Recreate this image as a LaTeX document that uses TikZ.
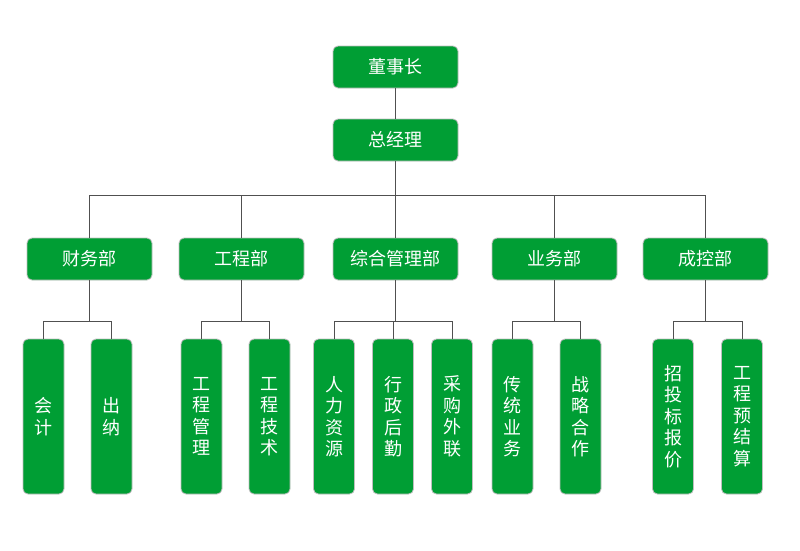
\documentclass[tikz,border=0pt]{standalone}
\usepackage{fontspec}
\newfontfamily\cjk{Noto Sans CJK SC}
\definecolor{boxgreen}{RGB}{0,158,52}
\definecolor{boxedge}{RGB}{190,190,190}
\definecolor{linegray}{RGB}{80,80,80}
\tikzset{
  hbox/.style={draw=boxedge, fill=boxgreen, rounded corners=5pt, text=white,
    font=\cjk\fontsize{18}{21.5}\selectfont, inner sep=0pt,
    minimum width=125pt, minimum height=42pt, line width=0.8pt},
  vbox/.style={draw=boxedge, fill=boxgreen, rounded corners=5pt, text=white,
    font=\cjk\fontsize{18}{21.5}\selectfont, inner sep=0pt, align=center,
    minimum width=41pt, minimum height=155pt, line width=0.8pt},
  conn/.style={draw=linegray, line width=1pt}
}
\begin{document}
\begin{tikzpicture}[x=1pt,y=-1pt]
\useasboundingbox (0,0) rectangle (800,550);
\fill[white] (0,0) rectangle (800,550);
\coordinate (b1) at (0,195);
\coordinate (b2) at (0,321);
% top
\node[hbox] (dsz) at (395.5,67) {董事长};
\node[hbox] (zjl) at (395.5,140) {总经理};
% departments
\node[hbox] (cw) at (89.5,259) {财务部};
\node[hbox] (gc) at (241.5,259) {工程部};
\node[hbox] (zh) at (395.5,259) {综合管理部};
\node[hbox] (yw) at (554.5,259) {业务部};
\node[hbox] (ck) at (705.5,259) {成控部};
% sub units
\node[vbox] (kj) at (43.5,416.5) {会\\计};
\node[vbox] (cn) at (111.5,416.5) {出\\纳};
\node[vbox] (gcgl) at (201.5,416.5) {工\\程\\管\\理};
\node[vbox] (gcjs) at (269.5,416.5) {工\\程\\技\\术};
\node[vbox] (rlzy) at (334,416.5) {人\\力\\资\\源};
\node[vbox] (xzhq) at (393,416.5) {行\\政\\后\\勤};
\node[vbox] (cgwl) at (452,416.5) {采\\购\\外\\联};
\node[vbox] (ctyw) at (512.5,416.5) {传\\统\\业\\务};
\node[vbox] (zlhz) at (580.5,416.5) {战\\略\\合\\作};
\node[vbox] (ztb) at (673,416.5) {招\\投\\标\\报\\价};
\node[vbox] (gcys) at (742,416.5) {工\\程\\预\\结\\算};
% connectors
\draw[conn] (dsz) -- (zjl);
\draw[conn] (zjl.south) -- (zjl.south |- b1);
\draw[conn] (cw.north) -- (cw.north |- b1) -| (ck.north);
\draw[conn] (gc.north) -- (gc.north |- b1);
\draw[conn] (zh.north) -- (zh.north |- b1);
\draw[conn] (yw.north) -- (yw.north |- b1);
\draw[conn] (cw.south) -- (cw.south |- b2);
\draw[conn] (kj.north) -- (kj.north |- b2) -| (cn.north);
\draw[conn] (gc.south) -- (gc.south |- b2);
\draw[conn] (gcgl.north) -- (gcgl.north |- b2) -| (gcjs.north);
\draw[conn] (zh.south) -- (zh.south |- b2);
\draw[conn] (rlzy.north) -- (rlzy.north |- b2) -| (cgwl.north);
\draw[conn] (xzhq.north) -- (xzhq.north |- b2);
\draw[conn] (yw.south) -- (yw.south |- b2);
\draw[conn] (ctyw.north) -- (ctyw.north |- b2) -| (zlhz.north);
\draw[conn] (ck.south) -- (ck.south |- b2);
\draw[conn] (ztb.north) -- (ztb.north |- b2) -| (gcys.north);
\end{tikzpicture}
\end{document}
